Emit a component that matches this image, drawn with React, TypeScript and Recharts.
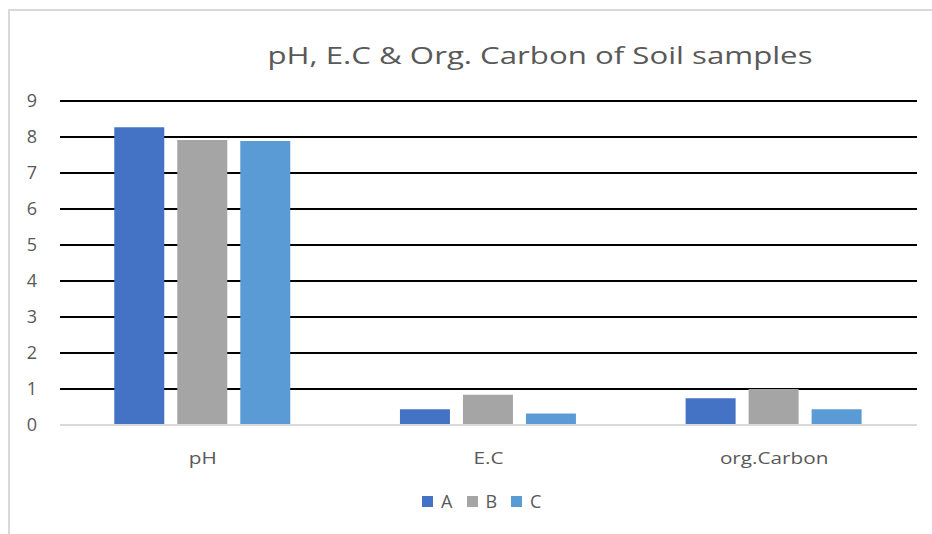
import React from 'react';
import { BarChart, Bar, XAxis, YAxis, CartesianGrid, Legend } from 'recharts';

const categories = ['pH', 'E.C', 'org.Carbon'];
const seriesA = [8.27, 0.44, 0.74];
const seriesB = [7.92, 0.84, 1.0];
const seriesC = [7.89, 0.32, 0.44];
const yTicks = [0, 1, 2, 3, 4, 5, 6, 7, 8, 9];
const gridValues = [1, 2, 3, 4, 5, 6, 7, 8, 9];
const seriesNames = ['A', 'B', 'C'];
const colors = ['#4472C4', '#A5A5A5', '#5B9BD5'];

const data = categories.map((c, i) => ({ name: c, A: seriesA[i], B: seriesB[i], C: seriesC[i] }));

const FONT = '"Open Sans", Lato, sans-serif';

const LegendContent = () => (
  <div style={{ display: 'flex', justifyContent: 'flex-start', alignItems: 'center', fontFamily: FONT, fontSize: 18, color: '#595959', height: 24, paddingLeft: 422 }}>
    {seriesNames.map((n, i) => (
      <div key={n} style={{ display: 'flex', alignItems: 'center', width: 44.5 }}>
        <span style={{ display: 'inline-block', width: 11, height: 11, background: colors[i], marginRight: 8 }} />
        <span>{n}</span>
      </div>
    ))}
  </div>
);

const XTick = (props: any) => {
  const { x, y, payload } = props;
  return (
    <text
      transform={`translate(${x},${y + 37}) scale(1.22,1)`}
      textAnchor="middle"
      fill="#595959"
      fontSize={17}
      fontFamily={FONT}
    >
      {payload.value}
    </text>
  );
};

export default function App() {
  return (
    <div style={{ position: 'absolute', left: 0, top: 0, width: 932, height: 534, background: '#fff', overflow: 'hidden' }}>
      <div style={{ position: 'absolute', left: 8, top: 9, right: -5, bottom: -5, borderLeft: '2px solid #D9D9D9', borderTop: '2px solid #D9D9D9' }} />
      <div style={{ position: 'absolute', left: 0, width: 1080, top: 37, textAlign: 'center', fontFamily: FONT, fontSize: 24, color: '#595959', lineHeight: '36px', transform: 'scaleX(1.3)', transformOrigin: '540px 0' }}>
        pH, E.C &amp; Org. Carbon of Soil samples
      </div>
      <BarChart
        width={932}
        height={534}
        data={data}
        margin={{ top: 101, right: 15, left: 0, bottom: 21 }}
        barCategoryGap="19%"
        barGap={13}
      >
        <CartesianGrid vertical={false} horizontalValues={gridValues} stroke="#000" strokeWidth={2} />
        <XAxis
          dataKey="name"
          tickLine={false}
          axisLine={{ stroke: '#D9D9D9', strokeWidth: 2 }}
          tick={<XTick />}
          tickSize={0}
          height={64}
        />
        <YAxis
          domain={[0, 9]}
          ticks={yTicks}
          interval={0}
          axisLine={false}
          tickLine={false}
          tickSize={0}
          tickMargin={23}
          width={60}
          tick={{ fill: '#595959', fontSize: 18, fontFamily: FONT }}
        />
        <Legend verticalAlign="bottom" height={24} content={<LegendContent />} />
        {seriesNames.map((n, i) => (
          <Bar key={n} dataKey={n} fill={colors[i]} isAnimationActive={false} />
        ))}
      </BarChart>
    </div>
  );
}
